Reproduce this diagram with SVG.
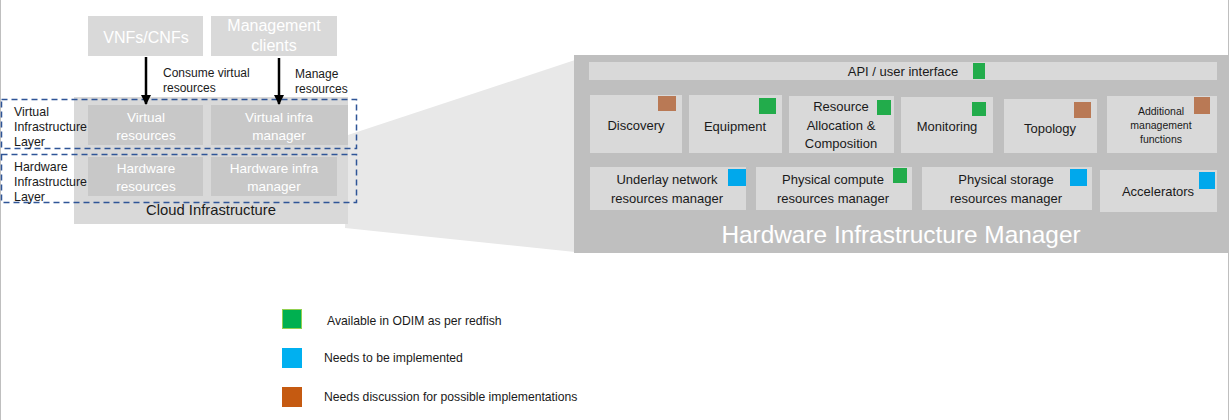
<svg xmlns="http://www.w3.org/2000/svg" width="1229" height="420" viewBox="0 0 1229 420">
<defs>
<style>
text{font-family:"Liberation Sans",Arial,sans-serif;}
.lt{fill:#d9d9d9;}
.dk{fill:#c8c8c8;}
.wt{fill:#ffffff;font-size:13.5px;text-anchor:middle;}
.bk{fill:#1a1a1a;font-size:12px;}
.hb{fill:#d9d9d9;}
.ht{fill:#1a1a1a;font-size:13px;text-anchor:middle;}
.g{fill:#22ac4b;}
.b{fill:#00a8ec;}
.r{fill:#b97955;}
.dash{fill:none;stroke:#2f5597;stroke-width:1.5;stroke-dasharray:6 4;}
.lg{fill:#1a1a1a;font-size:12.2px;}
</style>
<marker id="ah" viewBox="0 0 10 10" refX="9" refY="5" markerWidth="4" markerHeight="4" orient="auto">
<path d="M0,0 L10,5 L0,10 z" fill="#000"/>
</marker>
</defs>
<rect x="0" y="0" width="1229" height="420" fill="#ffffff"/>
<line x1="0.5" y1="0" x2="0.5" y2="420" stroke="#bfbfbf" stroke-width="1"/>
<line x1="1228.5" y1="0" x2="1228.5" y2="420" stroke="#bfbfbf" stroke-width="1"/>

<!-- wedge -->
<polygon points="348,135 575,60 575,252 345,228" fill="#e8e8e8"/>

<!-- left panel -->
<g id="cloud-infra">
<rect class="lt" x="74" y="97" width="274" height="127"/>
<text x="211" y="215" fill="#1a1a1a" font-size="14.8" text-anchor="middle">Cloud Infrastructure</text>
</g>
<g id="vnfs">
<rect class="lt" x="88" y="16" width="115" height="40"/>
<text class="wt" x="146" y="43" style="font-size:16px">VNFs/CNFs</text>
</g>
<g id="mgmt-clients">
<rect class="lt" x="211" y="16" width="126" height="40"/>
<text class="wt" x="274" y="31" style="font-size:16px">Management</text>
<text class="wt" x="274" y="51" style="font-size:16px">clients</text>
</g>
<g id="virtual-resources">
<rect class="dk" x="88" y="105" width="115" height="40"/>
<text class="wt" x="146" y="122">Virtual</text>
<text class="wt" x="146" y="140">resources</text>
</g>
<g id="virtual-infra-manager">
<rect class="dk" x="211" y="105" width="137" height="40"/>
<text class="wt" x="279" y="122">Virtual infra</text>
<text class="wt" x="279" y="140">manager</text>
</g>
<g id="hardware-resources">
<rect class="dk" x="88" y="157" width="115" height="39"/>
<text class="wt" x="146" y="173">Hardware</text>
<text class="wt" x="146" y="191">resources</text>
</g>
<g id="hardware-infra-manager">
<rect class="dk" x="211" y="157" width="126" height="39"/>
<text class="wt" x="274" y="173">Hardware infra</text>
<text class="wt" x="274" y="191">manager</text>
</g>
<g id="virtual-layer">
<rect class="dash" x="1.5" y="99.5" width="355" height="49"/>
<text class="bk" x="14" y="116" style="font-size:12.4px">Virtual</text>
<text class="bk" x="14" y="131" style="font-size:12.4px">Infrastructure</text>
<text class="bk" x="14" y="146" style="font-size:12.4px">Layer</text>
</g>
<g id="hardware-layer">
<rect class="dash" x="1.5" y="154.5" width="355" height="48"/>
<text class="bk" x="14" y="171" style="font-size:12.4px">Hardware</text>
<text class="bk" x="14" y="186" style="font-size:12.4px">Infrastructure</text>
<text class="bk" x="14" y="201" style="font-size:12.4px">Layer</text>
</g>

<g id="connectors">
<line x1="146" y1="57" x2="146" y2="104" stroke="#000" stroke-width="2.5" marker-end="url(#ah)"/>
<line x1="279" y1="58" x2="279" y2="104" stroke="#000" stroke-width="2.5" marker-end="url(#ah)"/>
<text class="bk" x="163" y="77">Consume virtual</text>
<text class="bk" x="163" y="92">resources</text>
<text class="bk" x="295" y="78">Manage</text>
<text class="bk" x="295" y="93">resources</text>
</g>

<!-- Hardware Infrastructure Manager -->
<g id="him">
<rect x="574" y="55" width="655" height="198" fill="#bfbfbf"/>
<text x="901" y="243" fill="#ffffff" font-size="24.4" text-anchor="middle">Hardware Infrastructure Manager</text>
</g>
<g id="api">
<rect class="hb" x="589" y="62" width="628" height="18"/>
<text class="ht" x="903" y="76">API / user interface</text>
<rect class="g" x="973" y="63" width="12" height="16"/>
</g>
<g id="discovery">
<rect class="hb" x="590" y="95" width="92" height="58"/>
<text class="ht" x="636" y="130">Discovery</text>
<rect class="r" x="658" y="96" width="18" height="15"/>
</g>
<g id="equipment">
<rect class="hb" x="689" y="95" width="93" height="58"/>
<text class="ht" x="735" y="131">Equipment</text>
<rect class="g" x="759" y="98" width="17" height="16"/>
</g>
<g id="resource-allocation">
<rect class="hb" x="789" y="96" width="105" height="57"/>
<text class="ht" x="841" y="111">Resource</text>
<text class="ht" x="841" y="130">Allocation &amp;</text>
<text class="ht" x="841" y="148">Composition</text>
<rect class="g" x="877" y="100" width="14" height="15"/>
</g>
<g id="monitoring">
<rect class="hb" x="901" y="97" width="92" height="56"/>
<text class="ht" x="947" y="131">Monitoring</text>
<rect class="g" x="972" y="102" width="14" height="14"/>
</g>
<g id="topology">
<rect class="hb" x="1004" y="99" width="93" height="54"/>
<text class="ht" x="1050" y="133">Topology</text>
<rect class="r" x="1074" y="102" width="17" height="16"/>
</g>
<g id="additional">
<rect class="hb" x="1107" y="96" width="110" height="57"/>
<text class="ht" x="1161" y="115" style="font-size:10.5px">Additional</text>
<text class="ht" x="1161" y="129" style="font-size:10.5px">management</text>
<text class="ht" x="1161" y="143" style="font-size:10.5px">functions</text>
<rect class="r" x="1194" y="97" width="16" height="17"/>
</g>
<g id="underlay">
<rect class="hb" x="590" y="167" width="156" height="43"/>
<text class="ht" x="667" y="184">Underlay network</text>
<text class="ht" x="667" y="203">resources manager</text>
<rect class="b" x="728" y="169" width="18" height="17"/>
</g>
<g id="physical-compute">
<rect class="hb" x="756" y="167" width="156" height="43"/>
<text class="ht" x="833" y="184">Physical compute</text>
<text class="ht" x="833" y="203">resources manager</text>
<rect class="g" x="893" y="168" width="14" height="15"/>
</g>
<g id="physical-storage">
<rect class="hb" x="922" y="167" width="170" height="43"/>
<text class="ht" x="1006" y="184">Physical storage</text>
<text class="ht" x="1006" y="203">resources manager</text>
<rect class="b" x="1070" y="169" width="17" height="17"/>
</g>
<g id="accelerators">
<rect class="hb" x="1100" y="170" width="117" height="42"/>
<text class="ht" x="1158" y="196">Accelerators</text>
<rect class="b" x="1199" y="172" width="16" height="17"/>
</g>

<!-- legend -->
<g id="legend">
<rect x="282.5" y="309.5" width="19" height="19" fill="#00b050" stroke="#92d050" stroke-width="1"/>
<text class="lg" x="327" y="325">Available in ODIM as per redfish</text>
<rect x="282" y="348" width="20" height="20" fill="#00b0f0"/>
<text class="lg" x="324" y="362">Needs to be implemented</text>
<rect x="282" y="387" width="20" height="20" fill="#c55a11"/>
<text class="lg" x="324" y="401">Needs discussion for possible implementations</text>
</g>
</svg>
